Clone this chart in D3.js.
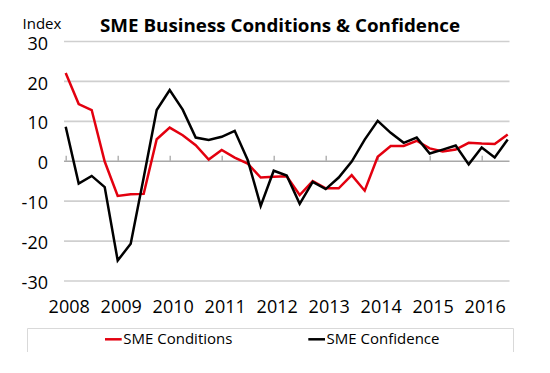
<!DOCTYPE html>
<html>
<head>
<meta charset="utf-8">
<script src="https://cdn.jsdelivr.net/npm/d3@7"></script>
<style>
  body { margin: 0; background: #fff; }
  text { font-family: "Open Sans", "Noto Sans", sans-serif; fill: #000; }
</style>
</head>
<body>
<svg id="chart" width="550" height="373"></svg>
<script>
// quarterly, 2008 Q1 .. 2016 Q3
var years = [2008, 2009, 2010, 2011, 2012, 2013, 2014, 2015, 2016];
var yTicks = [-30, -20, -10, 0, 10, 20, 30];
var seriesNames = ["SME Conditions", "SME Confidence"];
var seriesColors = ["#e3000f", "#000000"];

var conditions = [22, 14.2, 12.7, -0.2, -8.8, -8.4, -8.3, 5.4, 8.3, 6.4, 3.9, 0.3,
    2.7, 0.8, -0.7, -4.2, -4.0, -3.9, -8.6, -5.1, -6.9, -6.9, -3.6, -7.5,
    1.0, 3.7, 3.7, 5.0, 3.1, 2.3, 2.8, 4.5, 4.3, 4.2, 6.6];
var confidence = [8.5, -5.7, -3.8, -6.6, -25, -20.8, -4.2, 12.7, 17.7, 12.8, 5.8, 5.2,
    6.0, 7.5, 0.2, -11.3, -2.5, -3.7, -10.8, -5.3, -7.1, -4.2, -0.2, 5.3,
    10.0, 7.0, 4.5, 5.8, 1.8, 2.8, 3.8, -0.9, 3.3, 0.8, 5.3];

var svg = d3.select("#chart");

var x = d3.scaleLinear()
    .domain([2008, 2016.5])
    .range([65.7, 507.7]);

var y = d3.scaleLinear()
    .domain([-30, 30])
    .range([280.5, 41]);

var gridLeft = 64, gridRight = 509.5;

// gridlines + y labels
var yAxis = svg.append("g")
    .attr("transform", "translate(" + gridLeft + ",0)")
    .call(d3.axisLeft(y).tickValues(yTicks).tickSize(-(gridRight - gridLeft)).tickPadding(16)
        .tickFormat(function(d) { return d < 0 ? "-" + Math.abs(d) : d; }));
yAxis.select(".domain").remove();
yAxis.selectAll(".tick line")
    .attr("stroke", function(d) { return d === 0 ? "#a8a8a8" : "#cfcfcf"; })
    .attr("stroke-width", 1.6);
yAxis.selectAll(".tick text")
    .attr("font-size", 18)
    .attr("dy", "0.45em")
    .attr("font-family", "Open Sans");

// small ticks on the zero line
var xTickAxis = svg.append("g")
    .attr("transform", "translate(0," + y(0) + ")")
    .call(d3.axisTop(x).tickValues(years).tickSize(5).tickFormat(""));
xTickAxis.select(".domain").remove();
xTickAxis.selectAll(".tick line").attr("stroke", "#a8a8a8").attr("stroke-width", 1.3);

// year labels
var xAxis = svg.append("g")
    .attr("transform", "translate(3,300)")
    .call(d3.axisBottom(x).tickValues(years).tickSize(0).tickPadding(0).tickFormat(d3.format("d")));
xAxis.select(".domain").remove();
xAxis.selectAll(".tick text")
    .attr("font-size", 18)
    .attr("dy", "12.7")
    .attr("font-family", "Open Sans");

// lines
var line = d3.line()
    .x(function(d, i) { return x(2008 + i / 4); })
    .y(function(d) { return y(d); });

[conditions, confidence].forEach(function(s, k) {
    svg.append("path")
        .datum(s)
        .attr("fill", "none")
        .attr("stroke", seriesColors[k])
        .attr("stroke-width", 2.5)
        .attr("stroke-linejoin", "miter")
        .attr("d", line);
});

// title + unit
svg.append("text")
    .attr("x", 100).attr("y", 32)
    .attr("font-size", 18)
    .attr("font-weight", "bold")
    .attr("textLength", 360)
    .attr("lengthAdjust", "spacingAndGlyphs")
    .text("SME Business Conditions & Confidence");

svg.append("text")
    .attr("x", 22.5).attr("y", 28.5)
    .attr("font-size", 15)
    .text("Index");

// legend
svg.append("path")
    .attr("d", "M27.5,352V328.5H513.5V352")
    .attr("fill", "none")
    .attr("stroke", "#d9d9d9")
    .attr("stroke-width", 1);

var legendX = [105, 308.3];
var item = svg.selectAll(".legend")
    .data(seriesNames)
    .enter().append("g")
    .attr("class", "legend")
    .attr("transform", function(d, i) { return "translate(" + legendX[i] + ",339.3)"; });

item.append("line")
    .attr("x1", 0).attr("x2", 16.7)
    .attr("stroke", function(d, i) { return seriesColors[i]; })
    .attr("stroke-width", 2.5);

item.append("text")
    .attr("x", 18.3).attr("y", 5)
    .attr("font-size", 15)
    .text(function(d) { return d; });
</script>
</body>
</html>
